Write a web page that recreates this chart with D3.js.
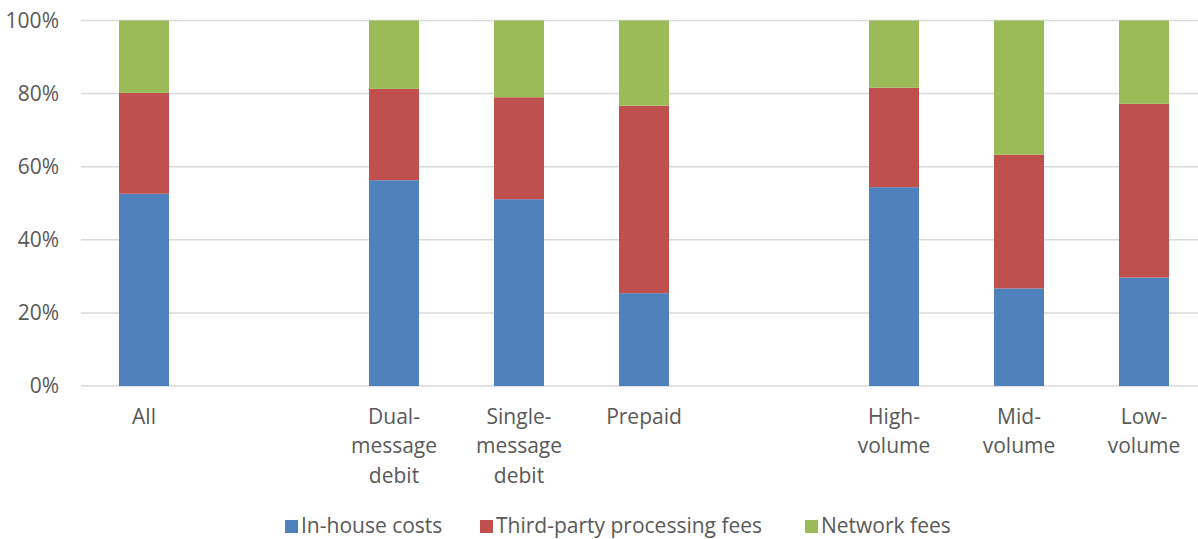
<!DOCTYPE html>
<html><head><meta charset="utf-8">
<script src="https://cdn.jsdelivr.net/npm/d3@7"></script>
<style>body{margin:0;background:#fff}svg{display:block;font-family:"Open Sans",sans-serif}</style>
</head><body>
<svg id="c" width="1198" height="539"></svg>
<script>
const categories = ["All", "", "Dual-\nmessage\ndebit", "Single-\nmessage\ndebit", "Prepaid", "", "High-\nvolume", "Mid-\nvolume", "Low-\nvolume"];
const inHouse = [52.6, null, 56.3, 51.1, 25.4, null, 54.4, 26.7, 29.7];
const thirdParty = [27.6, null, 25.0, 27.9, 51.3, null, 27.2, 36.6, 47.5];
const network = [19.8, null, 18.7, 21.0, 23.3, null, 18.4, 36.7, 22.8];
const seriesNames = ["In-house costs", "Third-party processing fees", "Network fees"];
const colors = ["#4F81BD", "#C0504D", "#9BBB59"];
const yTicks = [0, 20, 40, 60, 80, 100];

const svg = d3.select("#c");
const keys = categories.map((c, i) => "k" + i);
const x = d3.scaleBand().domain(keys).range([81.5, 1206.5]).paddingInner(0.6).paddingOuter(0.3);
const y = d3.scaleLinear().domain([0, 100]).range([386, 20.5]);

// gridlines
svg.append("g").selectAll("line").data(yTicks).join("line")
  .attr("x1", 81).attr("x2", 1198)
  .attr("y1", d => y(d)).attr("y2", d => y(d))
  .attr("stroke", "#d9d9d9").attr("stroke-width", 1.5);

// y labels
svg.append("g").selectAll("text").data(yTicks).join("text")
  .attr("x", 59).attr("y", d => y(d)).attr("dy", "0.35em")
  .attr("text-anchor", "end").attr("fill", "#595959").attr("font-size", 21)
  .text(d => d + "%");

// stacked bars
const rows = keys.map((k, i) => ({key: k, s0: inHouse[i], s1: thirdParty[i], s2: network[i]}))
  .filter(r => r.s0 != null);
const stack = d3.stack().keys(["s0", "s1", "s2"]);
const layers = stack(rows);
svg.append("g").selectAll("g").data(layers).join("g")
  .attr("fill", (d, i) => colors[i])
  .selectAll("rect").data(d => d).join("rect")
  .attr("x", d => x(d.data.key)).attr("width", x.bandwidth())
  .attr("y", d => y(d[1])).attr("height", d => y(d[0]) - y(d[1]));

// x labels
const xl = svg.append("g").selectAll("text").data(keys).join("text")
  .attr("text-anchor", "middle").attr("fill", "#595959").attr("font-size", 21)
  .attr("transform", d => `translate(${x(d) + x.bandwidth() / 2},423.5)`);
xl.each(function(d, i) {
  const lines = categories[i].split("\n").filter(s => s.length);
  d3.select(this).selectAll("tspan").data(lines).join("tspan")
    .attr("x", 0).attr("y", (l, j) => j * 29.5).text(l => l);
});

// legend
const legX = [285, 480, 805];
const lg = svg.append("g").selectAll("g").data(seriesNames).join("g")
  .attr("transform", (d, i) => `translate(${legX[i]},0)`);
lg.append("rect").attr("x", 0).attr("y", 520).attr("width", 13).attr("height", 13)
  .attr("fill", (d, i) => colors[i]);
lg.append("text").attr("x", 16).attr("y", 533).attr("fill", "#595959").attr("font-size", 21)
  .text(d => d);
</script>
</body></html>
